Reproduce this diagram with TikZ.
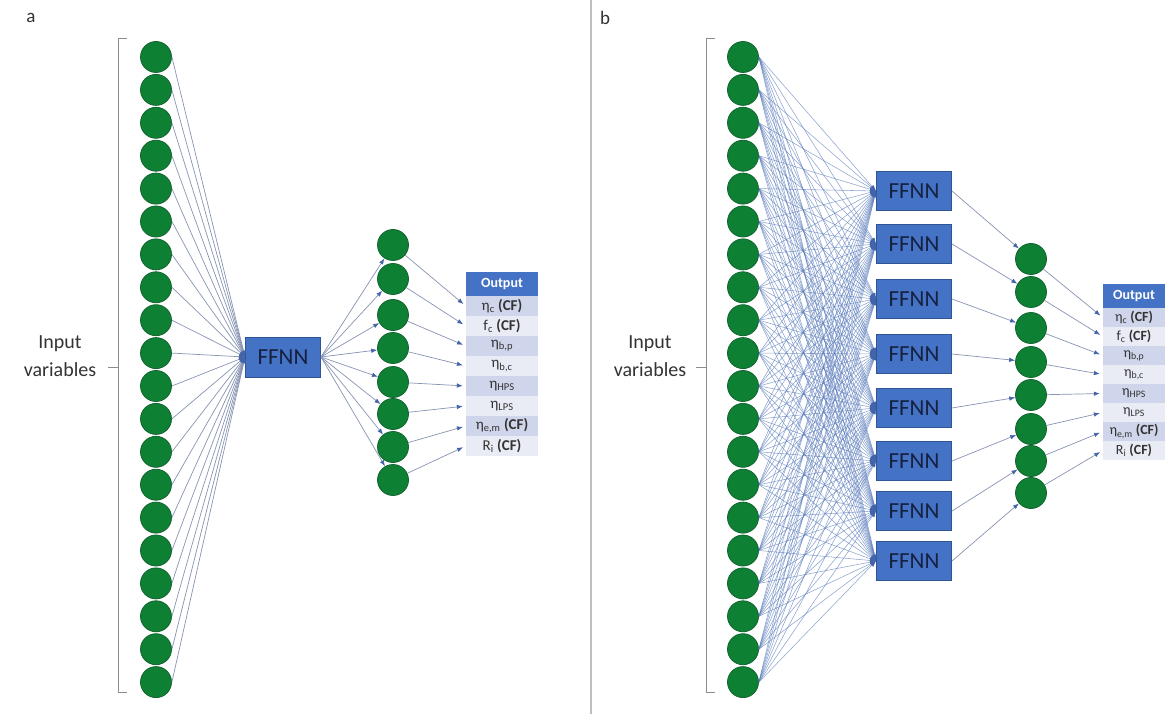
\documentclass[tikz,border=0pt]{standalone}
\usepackage{fontspec}
\setmainfont{Carlito}
\usetikzlibrary{arrows.meta}
\definecolor{circgreen}{RGB}{14,128,52}
\definecolor{circborder}{RGB}{18,100,48}
\definecolor{boxblue}{RGB}{68,114,196}
\definecolor{boxborder}{RGB}{47,85,151}
\definecolor{navytext}{RGB}{22,32,64}
\definecolor{rowdark}{RGB}{207,213,234}
\definecolor{rowlight}{RGB}{233,235,245}
\definecolor{linecol}{RGB}{135,148,178}
\definecolor{denseline}{RGB}{95,128,190}
\definecolor{tipblue}{RGB}{68,100,170}
\definecolor{brackgray}{RGB}{140,140,140}
\definecolor{divgray}{RGB}{190,190,190}
\tikzset{
  inp/.style={circle, draw=circborder, fill=circgreen, line width=0.8pt, minimum size=31pt, inner sep=0pt},
  ffnn/.style={draw=boxborder, fill=boxblue, line width=1pt, minimum width=75pt, minimum height=39pt, inner sep=0pt, text=navytext, font=\fontsize{23}{23}\selectfont},
  conn/.style={draw=linecol, line width=0.7pt, -{Latex[length=6pt,width=4.5pt,color=tipblue]}},
  dense/.style={draw=denseline, draw opacity=0.7, line width=0.55pt, -{Latex[length=6pt,width=4.5pt,color=tipblue]}},
  hdr/.style={fill=boxblue, text=white, inner sep=0pt, font=\bfseries\fontsize{14}{14}\selectfont},
  rowd/.style={fill=rowdark, inner sep=0pt, text=black!80},
  rowl/.style={fill=rowlight, inner sep=0pt, text=black!80},
  brack/.style={draw=brackgray, line width=1pt},
  lab/.style={font=\fontsize{20}{28}\selectfont, align=center, text=black!80},
  panel/.style={font=\fontsize{19}{19}\selectfont, text=black!80}
}
\begin{document}
\begin{tikzpicture}[x=1pt,y=-1pt]
\useasboundingbox[fill=white] (0,0) rectangle (1168,714);
% panel labels and divider
\node[panel] (pa) at (31,18) {a};
\node[panel] (pb) at (605,18) {b};
\coordinate (dtop) at (591,0);
\coordinate (dbot) at (591,714);
\draw[draw=divgray, line width=1.5pt] (dtop) -- (dbot);

% ================= panel a =================
\foreach \i in {1,...,20} \node[inp] (a\i) at (156,{57+(\i-1)*32.9}) {};
\coordinate (ab1) at (127,39); \coordinate (ab2) at (118,39);
\coordinate (ab3) at (118,692); \coordinate (ab4) at (127,692);
\coordinate (abm) at (118,367); \coordinate (abt) at (108,367);
\draw[brack] (ab1) -- (ab2) -- (ab3) -- (ab4);
\draw[brack] (abm) -- (abt);
\node[lab] (ain) at (60,356) {Input\\variables};
\node[ffnn, minimum width=75pt, minimum height=40pt] (af) at (283,357) {FFNN};
\foreach \i in {1,...,20} \draw[conn] (a\i.east) -- (af.west);
\foreach \y [count=\i] in {245,279,315,348,382,414,447,480}
  \node[inp] (ah\i) at (393,\y) {};
\foreach \i in {1,...,8} \draw[conn] (af.east) -- (ah\i);
% table a
\node[hdr, minimum width=72pt, minimum height=24pt] (ao) at (502,284) {Output};
\begin{scope}[every node/.append style={minimum width=72pt, minimum height=20pt, font=\fontsize{15}{15}\selectfont}]
\node[rowd] (ar1) at (502,306) {η\textsubscript{c} \textbf{(CF)}};
\node[rowl] (ar2) at (502,326) {f\textsubscript{c} \textbf{(CF)}};
\node[rowd] (ar3) at (502,346) {η\textsubscript{b,p}};
\node[rowl] (ar4) at (502,366) {η\textsubscript{b,c}};
\node[rowd] (ar5) at (502,386) {η\textsubscript{HPS}};
\node[rowl] (ar6) at (502,406) {η\textsubscript{LPS}};
\node[rowd] (ar7) at (502,426) {η\textsubscript{e,m} \textbf{(CF)}};
\node[rowl] (ar8) at (502,446) {R\textsubscript{i} \textbf{(CF)}};
\end{scope}
\foreach \i in {1,...,8} \draw[conn, shorten >=3pt] (ah\i) -- (ar\i.west);

% ================= panel b =================
\foreach \i in {1,...,20} \node[inp] (b\i) at (743,{57+(\i-1)*32.9}) {};
\coordinate (bb1) at (715,39); \coordinate (bb2) at (706,39);
\coordinate (bb3) at (706,692); \coordinate (bb4) at (715,692);
\coordinate (bbm) at (706,367); \coordinate (bbt) at (696,367);
\draw[brack] (bb1) -- (bb2) -- (bb3) -- (bb4);
\draw[brack] (bbm) -- (bbt);
\node[lab] (bin) at (650,356) {Input\\variables};
\foreach \y [count=\j] in {191,244,299,354,408,461,511,561}
  \node[ffnn] (bf\j) at (914,\y) {FFNN};
\foreach \i in {1,...,20}
  \foreach \j in {1,...,8}
    \draw[dense] (b\i.east) -- (bf\j.west);
\foreach \y [count=\i] in {259,292,328,362,395,429,461,493}
  \node[inp] (bh\i) at (1031,\y) {};
\foreach \i in {1,...,8} \draw[conn] (bf\i.east) -- (bh\i);
% table b
\node[hdr, minimum width=62pt, minimum height=24pt] (bo) at (1134,296) {Output};
\begin{scope}[every node/.append style={minimum width=62pt, minimum height=19pt, font=\fontsize{14}{14}\selectfont}]
\node[rowd] (br1) at (1134,317.5) {η\textsubscript{c} \textbf{(CF)}};
\node[rowl] (br2) at (1134,336.5) {f\textsubscript{c} \textbf{(CF)}};
\node[rowd] (br3) at (1134,355.5) {η\textsubscript{b,p}};
\node[rowl] (br4) at (1134,374.5) {η\textsubscript{b,c}};
\node[rowd] (br5) at (1134,393.5) {η\textsubscript{HPS}};
\node[rowl] (br6) at (1134,412.5) {η\textsubscript{LPS}};
\node[rowd] (br7) at (1134,431.5) {η\textsubscript{e,m} \textbf{(CF)}};
\node[rowl] (br8) at (1134,450.5) {R\textsubscript{i} \textbf{(CF)}};
\end{scope}
\foreach \i in {1,...,8} \draw[conn, shorten >=3pt] (bh\i) -- (br\i.west);
\end{tikzpicture}
\end{document}
